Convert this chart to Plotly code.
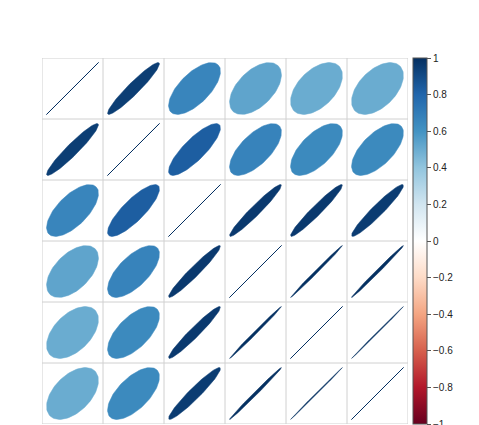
import numpy as np
import plotly.graph_objects as go

# -- matriz de correlaciones (6 variables)
variables = ['V1', 'V2', 'V3', 'V4', 'V5', 'V6']
r_mat = [
    [1.00, 0.95, 0.66, 0.53, 0.50, 0.50],
    [0.95, 1.00, 0.83, 0.67, 0.64, 0.64],
    [0.66, 0.83, 1.00, 0.965, 0.965, 0.955],
    [0.53, 0.67, 0.965, 1.00, 0.997, 0.996],
    [0.50, 0.64, 0.965, 0.997, 1.00, 0.9995],
    [0.50, 0.64, 0.955, 0.996, 0.9995, 1.00],
]
cbar_ticks = [-1, -0.8, -0.6, -0.4, -0.2, 0, 0.2, 0.4, 0.6, 0.8, 1]
cbar_text = ['\u22121', '\u22120.8', '\u22120.6', '\u22120.4', '\u22120.2', '0',
             '0.2', '0.4', '0.6', '0.8', '1']

pal = ["#67001F", "#B2182B", "#D6604D", "#F4A582", "#FDDBC7", "#FFFFFF",
       "#D1E5F0", "#92C5DE", "#4393C3", "#2166AC", "#053061"]
escala = [[i / 10, c] for i, c in enumerate(pal)]


def color_de(r):
    # interpolacion lineal sobre la paleta RdBu
    pos = (r + 1) / 2 * 10
    i = min(int(np.floor(pos)), 9)
    t = pos - i
    c0 = np.array([int(pal[i][j:j + 2], 16) for j in (1, 3, 5)])
    c1 = np.array([int(pal[i + 1][j:j + 2], 16) for j in (1, 3, 5)])
    c = np.round(c0 + (c1 - c0) * t).astype(int)
    return 'rgb(%d,%d,%d)' % tuple(c)


n = len(variables)
fig = go.Figure()

k = np.linspace(0, 2 * np.pi, 99)
for i in range(n):
    for j in range(n):
        rho = r_mat[i][j]
        a = np.arccos(min(rho, 1.0)) / 2
        ex = 0.85 * np.cos(k + a) / 2 + (j + 1)
        ey = 0.85 * np.cos(k - a) / 2 + (n - i)
        col = color_de(rho)
        ancho = 1 if rho >= 0.9999 else 0.5
        fig.add_trace(go.Scatter(x=ex, y=ey, mode='lines', fill='toself',
                                 fillcolor=col, line=dict(color=col, width=ancho),
                                 hoverinfo='skip', showlegend=False))

# barra de color
fig.add_trace(go.Scatter(x=[None], y=[None], mode='markers', showlegend=False,
                         marker=dict(color=[0], cmin=-1, cmax=1, colorscale=escala,
                                     showscale=True,
                                     colorbar=dict(x=1.0137, xanchor='left', xpad=0, ypad=0,
                                                   y=0.5, yanchor='middle', len=1,
                                                   lenmode='fraction', thickness=14,
                                                   outlinewidth=1, outlinecolor='#555555',
                                                   tickvals=cbar_ticks, ticktext=cbar_text,
                                                   ticks='outside', ticklen=4,
                                                   tickcolor='#555555',
                                                   tickfont=dict(family='Liberation Sans',
                                                                 size=10, color='#222222')))))

# cuadricula
shapes = []
for v in np.arange(0.5, n + 1, 1.0):
    shapes.append(dict(type='line', x0=v, x1=v, y0=0.5, y1=n + 0.5,
                       line=dict(color='#D0D0D0', width=1)))
    shapes.append(dict(type='line', x0=0.5, x1=n + 0.5, y0=v, y1=v,
                       line=dict(color='#D0D0D0', width=1)))

# el body de la pagina tiene 8px de margen: se compensa aqui
fig.update_layout(width=479, height=425, autosize=False,
                  margin=dict(l=34, r=79, t=50, b=9, pad=0, autoexpand=False),
                  plot_bgcolor='white', paper_bgcolor='white',
                  shapes=shapes,
                  xaxis=dict(range=[0.5, n + 0.5], visible=False, fixedrange=True),
                  yaxis=dict(range=[0.5, n + 0.5], visible=False, fixedrange=True))

fig.write_html("out.html")
